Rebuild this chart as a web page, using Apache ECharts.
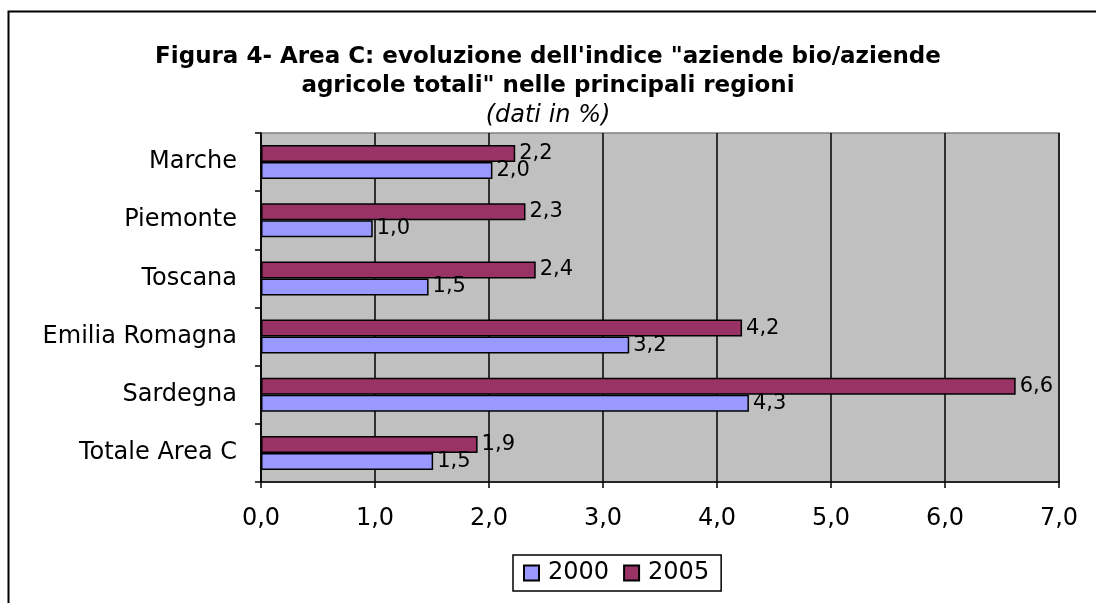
<!DOCTYPE html>
<html>
<head>
<meta charset="utf-8">
<script src="https://cdn.jsdelivr.net/npm/echarts@6/dist/echarts.min.js"></script>
<style>
  html, body { margin: 0; padding: 0; background: #fff; }
  #chart { width: 1096px; height: 603px; }
</style>
</head>
<body>
<div id="chart"></div>
<script>
const regions = ['Marche', 'Piemonte', 'Toscana', 'Emilia Romagna', 'Sardegna', 'Totale Area C'];
const values2000 = [2.03, 0.98, 1.47, 3.23, 4.28, 1.51];
const values2005 = [2.23, 2.32, 2.41, 4.22, 6.62, 1.90];
const xTicks = [0, 1, 2, 3, 4, 5, 6, 7];
const titleLines = [
  'Figura 4- Area C: evoluzione dell\'indice "aziende bio/aziende',
  'agricole totali" nelle principali regioni',
];
const subtitle = '(dati in %)';

const font = 'DejaVu Sans, Verdana, sans-serif';
const fmt = (v) => v.toFixed(1).replace('.', ',');

const chart = echarts.init(document.getElementById('chart'));

const labelStyle = {
  show: true,
  position: 'right',
  distance: 4,
  color: '#000',
  fontFamily: font,
  fontSize: 21,
  formatter: (p) => fmt(p.value),
};

const titleFont = { fontFamily: font, fontSize: 23, fontWeight: 'bold', color: '#000' };

chart.setOption({
  backgroundColor: '#fff',
  animation: false,
  title: [
    { text: titleLines[0], left: 'center', top: 41, textStyle: titleFont },
    { text: titleLines[1], left: 'center', top: 70, textStyle: titleFont },
    {
      text: subtitle,
      left: 'center',
      top: 99,
      textStyle: { fontFamily: font, fontSize: 24, fontStyle: 'italic', fontWeight: 'normal', color: '#000' },
    },
  ],
  legend: {
    data: ['2000', '2005'],
    bottom: 12,
    left: 513,
    itemWidth: 15,
    itemHeight: 15,
    itemGap: 14,
    padding: [6, 12, 6, 10],
    borderColor: '#000',
    borderWidth: 1.5,
    icon: 'rect',
    textStyle: { fontFamily: font, fontSize: 24, color: '#000', padding: [0, 0, 0, 4] },
  },
  grid: {
    left: 261,
    right: 37,
    top: 133,
    bottom: 121,
    show: true,
    backgroundColor: '#c0c0c0',
    borderColor: '#808080',
    borderWidth: 1.5,
  },
  xAxis: {
    type: 'value',
    min: 0,
    max: 7,
    interval: 1,
    axisLine: { show: true, lineStyle: { color: '#000', width: 1.5 } },
    axisTick: { show: true, length: 6, lineStyle: { color: '#000', width: 1.5 } },
    splitLine: { show: true, lineStyle: { color: '#000', width: 1.5 } },
    axisLabel: {
      color: '#000',
      fontFamily: font,
      fontSize: 24,
      margin: 25,
      formatter: (v) => (xTicks.includes(v) ? fmt(v) : ''),
    },
  },
  yAxis: {
    type: 'category',
    inverse: true,
    data: regions,
    axisLine: { show: true, lineStyle: { color: '#000', width: 1.5 } },
    axisTick: { show: true, length: 6, lineStyle: { color: '#000', width: 1.5 } },
    axisLabel: { color: '#000', fontFamily: font, fontSize: 24, margin: 24 },
  },
  series: [
    {
      name: '2005',
      type: 'bar',
      data: values2005,
      barWidth: 17,
      barGap: '0%',
      itemStyle: { color: '#993366', borderColor: '#000', borderWidth: 1.5 },
      label: labelStyle,
    },
    {
      name: '2000',
      type: 'bar',
      data: values2000,
      barWidth: 17,
      barGap: '0%',
      itemStyle: { color: '#9999ff', borderColor: '#000', borderWidth: 1.5 },
      label: labelStyle,
    },
  ],
  graphic: [
    {
      type: 'rect',
      shape: { x: 8.5, y: 11.5, width: 1100, height: 600 },
      style: { fill: 'none', stroke: '#000', lineWidth: 2 },
      silent: true,
    },
  ],
});
</script>
</body>
</html>
